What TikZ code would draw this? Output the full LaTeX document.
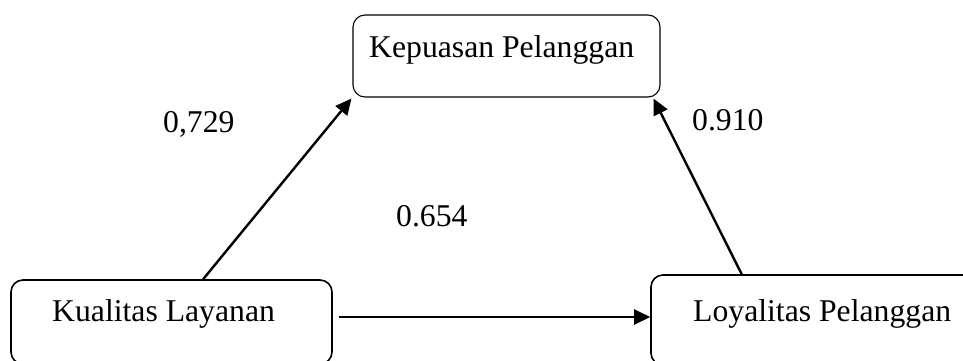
\documentclass[tikz,border=0pt]{standalone}
\usepackage{fontspec}
\setmainfont{Liberation Serif}
\usetikzlibrary{calc,arrows.meta}
\begin{document}
\begin{tikzpicture}[x=1pt,y=-1pt,
  box/.style={draw, rounded corners=12pt, line width=1.6pt, inner sep=0pt},
  lbl/.style={anchor=base west, inner sep=0pt, font=\fontsize{31.7}{38}\selectfont},
  conn/.style={line width=2.4pt, -{Triangle[length=16pt,width=15pt]}}]
\useasboundingbox (0,0) rectangle (963,360);
\clip (0,0) rectangle (963,360);
% boxes
\node[box, line width=1.1pt, minimum width=307pt, minimum height=82pt] (kp) at (506.5,56) {};
\node[box, minimum width=321pt, minimum height=84pt] (kl) at (171.5,322) {};
\node[box, minimum width=324pt, minimum height=90pt] (ly) at (813,320) {};
% box texts
\node[lbl] (kpt) at (369,57) {Kepuasan Pelanggan};
\node[lbl] (klt) at (52,321) {Kualitas Layanan};
\node[lbl] (lyt) at (693,321) {Loyalitas Pelanggan};
% coefficients
\node[lbl] (c1) at (163,132) {0,729};
\node[lbl] (c2) at (692,130) {0.910};
\node[lbl] (c3) at (396,226) {0.654};
% connectors
\draw[conn] ($(kl.north west)!0.598!(kl.north east)$) -- ($(kp.south west)+(-1,1)$);
\draw[conn] ($(ly.north west)!0.281!(ly.north east)$) -- ($(kp.south east)+(-7,1)$);
\draw[conn] ($(kl.east)+(6,-5)$) -- ($(ly.west)+(0,-3)$);
\end{tikzpicture}
\end{document}
